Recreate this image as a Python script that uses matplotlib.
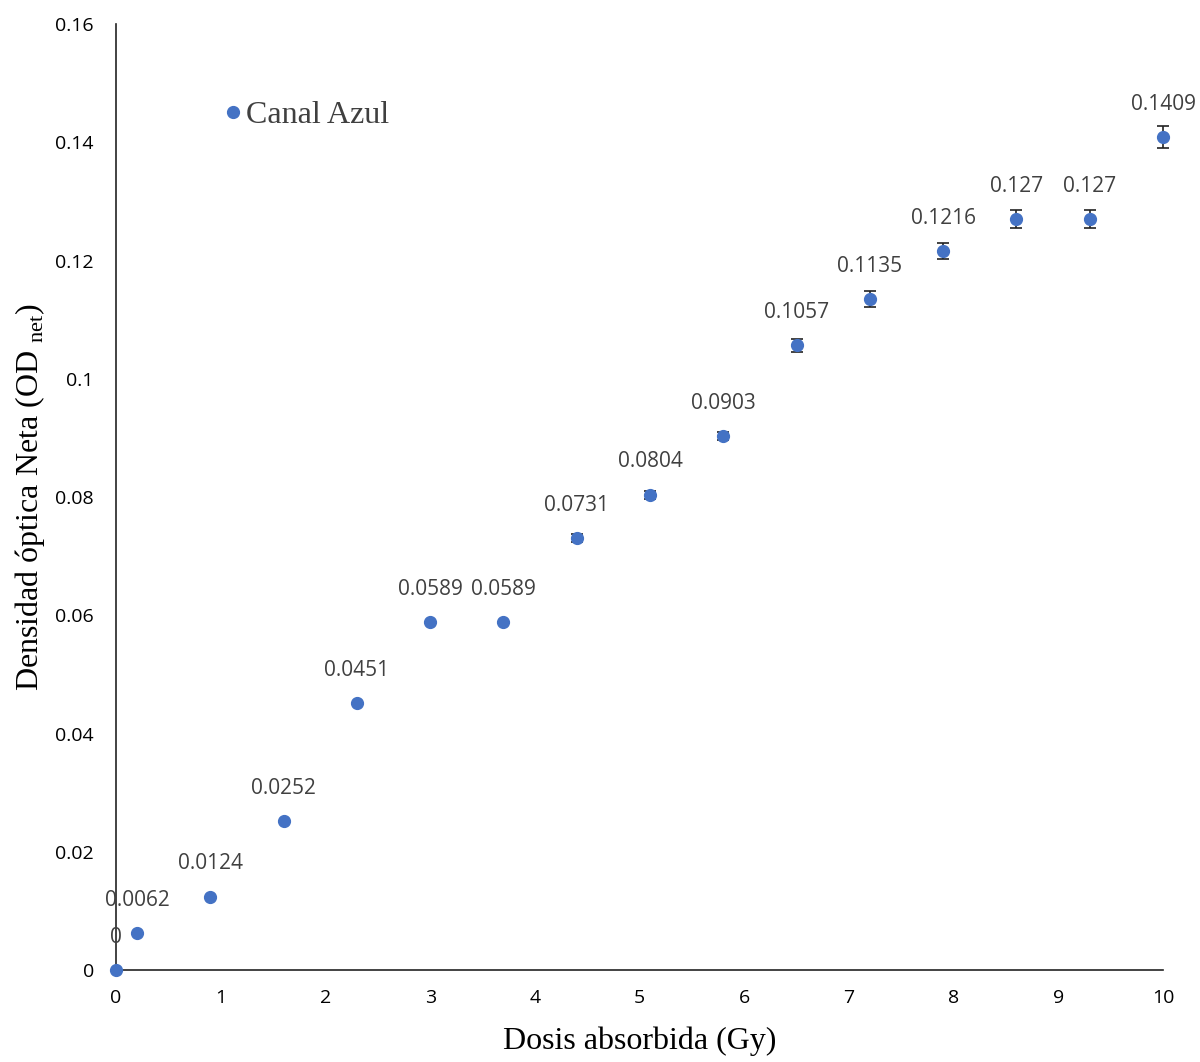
import matplotlib
matplotlib.use("Agg")
import matplotlib.pyplot as plt
from matplotlib.lines import Line2D

# data
dose = [0, 0.2, 0.9, 1.6, 2.3, 3.0, 3.7, 4.4, 5.1, 5.8, 6.5, 7.2, 7.9, 8.6, 9.3, 10.0]
od_net = [0, 0.0062, 0.0124, 0.0252, 0.0451, 0.0589, 0.0589, 0.0731, 0.0804,
          0.0903, 0.1057, 0.1135, 0.1216, 0.127, 0.127, 0.1409]
od_err = [0, 0, 0, 0, 0, 0, 0, 0.0007, 0.0007,
          0.0007, 0.0011, 0.0013, 0.0013, 0.0015, 0.0015, 0.0018]
x_ticks = list(range(0, 11))
y_ticks = [0, 0.02, 0.04, 0.06, 0.08, 0.1, 0.12, 0.14, 0.16]

blue = "#4472C4"
serif = ["Liberation Serif", "DejaVu Serif"]
sans = ["Open Sans", "DejaVu Sans"]

fig = plt.figure(figsize=(12, 10.62), dpi=100)
ax = fig.add_axes([0.0967, 0.0866, 0.8725, 0.8908])

ax.errorbar(dose, od_net, yerr=od_err, fmt="o", color=blue, markersize=8.5,
            ecolor="#222222", elinewidth=1.2, capsize=4, capthick=1.2,
            clip_on=False, zorder=3)

for x, y in zip(dose, od_net):
    ax.annotate(f"{y:g}", (x, y), xytext=(0, 16), textcoords="offset points",
                ha="center", va="bottom", fontsize=15, color="#404040",
                family=sans)

ax.set_xlim(0, 10)
ax.set_ylim(0, 0.16)
ax.set_xticks(x_ticks)
ax.set_yticks(y_ticks)
ax.set_xticklabels([f"{v:g}" for v in x_ticks], family=sans, fontsize=14)
ax.set_yticklabels([f"{v:g}" for v in y_ticks], family=sans, fontsize=14)
ax.tick_params(axis="x", length=0, pad=14)
ax.tick_params(axis="y", length=0, pad=16)

for s in ["top", "right"]:
    ax.spines[s].set_visible(False)
for s in ["left", "bottom"]:
    ax.spines[s].set_color("#222222")
    ax.spines[s].set_linewidth(1.2)

ax.set_xlabel("Dosis absorbida (Gy)", family=serif, fontsize=23, labelpad=14)
ax.set_ylabel("Densidad óptica Neta (OD $_{\\mathregular{net}}$)", family=serif,
              fontsize=23, labelpad=6)

handle = Line2D([], [], marker="o", linestyle="none", color=blue, markersize=8.5)
leg = ax.legend([handle], ["Canal Azul"], loc="upper left",
                bbox_to_anchor=(0.072, 0.949), frameon=False,
                prop={"family": serif, "size": 23}, handletextpad=0.0,
                handlelength=0.8)
for t in leg.get_texts():
    t.set_color("#404040")

fig.savefig("out.png", dpi=100)
